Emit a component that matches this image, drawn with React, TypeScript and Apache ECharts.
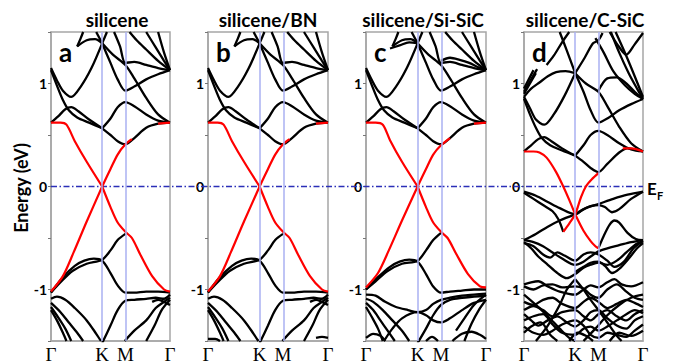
import React, { useEffect, useRef } from 'react';
import * as echarts from 'echarts';

type Pt = [number, number];

const kTicks = [0, 0.43, 0.625, 1];
const kLabels = ['Γ', 'K', 'M', 'Γ'];
const panelTitles = ['silicene', 'silicene/BN', 'silicene/Si-SiC', 'silicene/C-SiC'];
const panelLetters = ['a', 'b', 'c', 'd'];
const energyTicks = [-1, 0, 1];

// ---------- panel a / b (pristine-like) ----------
const upperA: Pt[][] = [
  [[0, 1.15], [0.05, 1.03], [0.1, 0.93], [0.17, 0.87], [0.25, 0.97], [0.34, 1.15], [0.43, 1.39]],
  [[0.43, 1.39], [0.5, 1.2], [0.56, 1.04], [0.625, 0.93], [0.7, 0.97], [0.8, 1.04], [0.9, 1.09], [1, 1.13]],
  [[0.43, 1.39], [0.52, 1.28], [0.625, 1.18], [0.7, 1.05], [0.8, 0.86], [0.9, 0.7], [1, 0.62]],
  [[0, 1.13], [0.05, 0.98], [0.1, 0.84], [0.15, 0.74], [0.22, 0.67], [0.32, 0.62], [0.43, 0.565]],
  [[0, 0.62], [0.06, 0.68], [0.12, 0.75], [0.17, 0.77], [0.23, 0.73], [0.32, 0.65], [0.43, 0.565]],
  [[0.43, 0.565], [0.5, 0.66], [0.56, 0.77], [0.625, 0.82], [0.7, 0.78], [0.8, 0.7], [0.9, 0.64], [1, 0.62]],
  [[0.43, 0.565], [0.5, 0.5], [0.56, 0.44], [0.625, 0.41], [0.7, 0.47], [0.8, 0.57], [0.9, 0.61], [1, 0.62]],
  [[0.66, 1.5], [0.72, 1.42], [0.8, 1.33], [0.9, 1.22], [1, 1.13]],
  [[0.8, 1.5], [0.88, 1.35], [0.95, 1.22], [1, 1.13]],
  [[0.9, 1.5], [0.95, 1.3], [1, 1.13]],
  [[0.53, 1.5], [0.58, 1.36], [0.625, 1.2], [0.7, 1.21], [0.8, 1.18], [0.9, 1.15], [1, 1.13]],
  [[0.22, 1.36], [0.3, 1.42], [0.37, 1.43], [0.43, 1.39]],
  [[0.22, 1.36], [0.25, 1.44], [0.27, 1.5]],
  [[0.43, 1.39], [0.47, 1.5]],
  [[0.38, 1.5], [0.43, 1.39]],
];

const lowerA: Pt[][] = [
  [[0, -1.03], [0.08, -0.93], [0.18, -0.82], [0.3, -0.75], [0.43, -0.71], [0.5, -0.62], [0.56, -0.52], [0.625, -0.46]],
  [[0, -1.03], [0.1, -0.88], [0.2, -0.77], [0.28, -0.72], [0.36, -0.7], [0.43, -0.72], [0.5, -0.84], [0.56, -0.96], [0.625, -1.03], [0.7, -1.03], [0.8, -1.02], [0.9, -1.02], [1, -1.03]],
  [[0.43, -1.52], [0.5, -1.35], [0.56, -1.2], [0.625, -1.11], [0.7, -1.1], [0.8, -1.09], [0.88, -1.08], [0.95, -1.09], [1, -1.05]],
  [[0, -1.09], [0.05, -1.07], [0.12, -1.1], [0.2, -1.18], [0.3, -1.3], [0.38, -1.43], [0.42, -1.5]],
  [[0, -1.13], [0.08, -1.22], [0.15, -1.32], [0.22, -1.42], [0.27, -1.5]],
  [[0, -1.17], [0.06, -1.27], [0.12, -1.38], [0.17, -1.5]],
  [[0, -1.2], [0.05, -1.3], [0.1, -1.42], [0.13, -1.5]],
  [[0.62, -1.5], [0.7, -1.4], [0.8, -1.3], [0.88, -1.18], [0.95, -1.12], [1, -1.08]],
  [[0.8, -1.5], [0.87, -1.35], [0.93, -1.2], [1, -1.1]],
  [[0.85, -1.12], [0.9, -1.1], [0.95, -1.12], [1, -1.15]],
];

const lowerBExtra: Pt[][] = [
  [[0, -1.48], [0.06, -1.48], [0.1, -1.5]],
  [[0.9, -1.47], [0.95, -1.46], [1, -1.47]],
];

const redA: Pt[][] = [
  [[0, 0.62], [0.08, 0.62], [0.13, 0.6], [0.2, 0.44], [0.3, 0.24], [0.43, 0]],
  [[0.43, 0], [0.5, 0.17], [0.56, 0.31], [0.625, 0.41], [0.68, 0.46]],
  [[0, -1.02], [0.1, -0.87], [0.19, -0.64], [0.3, -0.34], [0.43, 0]],
  [[0.43, 0], [0.5, -0.2], [0.56, -0.35], [0.625, -0.44], [0.68, -0.5], [0.75, -0.66], [0.85, -0.87], [0.95, -1.0], [1, -1.02]],
  [[0.9, 0.61], [1, 0.62]],
];

// ---------- panel c (Si-SiC) ----------
const upperCExtra: Pt[][] = [
  [[0.2, 1.34], [0.28, 1.37], [0.36, 1.4], [0.43, 1.39]],
  [[0.625, 1.22], [0.7, 1.25], [0.78, 1.23], [0.86, 1.2], [0.93, 1.16], [1, 1.13]],
];

const lowerC: Pt[][] = [
  [[0, -1.0], [0.08, -0.92], [0.18, -0.82], [0.3, -0.75], [0.43, -0.72], [0.5, -0.62], [0.56, -0.52], [0.625, -0.45]],
  [[0, -1.0], [0.1, -0.88], [0.2, -0.78], [0.28, -0.73], [0.36, -0.71], [0.43, -0.73], [0.5, -0.85], [0.56, -0.97], [0.625, -1.03], [0.7, -1.02], [0.8, -1.01], [0.9, -1.0], [1, -1.0]],
  [[0, -1.05], [0.08, -1.06], [0.16, -1.12], [0.25, -1.17], [0.35, -1.2], [0.43, -1.22], [0.5, -1.2], [0.56, -1.14], [0.625, -1.1], [0.7, -1.08], [0.8, -1.06], [0.9, -1.05], [1, -1.04]],
  [[0.15, -1.5], [0.22, -1.38], [0.3, -1.28], [0.43, -1.22], [0.5, -1.25], [0.56, -1.3], [0.625, -1.32], [0.7, -1.28], [0.8, -1.2], [0.9, -1.13], [1, -1.1]],
  [[0.43, -1.52], [0.5, -1.38], [0.56, -1.25], [0.625, -1.15], [0.7, -1.1], [0.8, -1.08], [0.9, -1.07], [1, -1.06]],
  [[0, -1.09], [0.06, -1.12], [0.14, -1.2], [0.22, -1.3], [0.3, -1.4], [0.36, -1.5]],
  [[0, -1.13], [0.06, -1.2], [0.12, -1.3], [0.18, -1.4], [0.24, -1.5]],
  [[0, -1.17], [0.05, -1.27], [0.1, -1.38], [0.14, -1.5]],
  [[0, -1.47], [0.06, -1.43], [0.12, -1.45], [0.16, -1.5]],
  [[0.72, -1.5], [0.8, -1.43], [0.88, -1.41], [0.95, -1.44], [1, -1.48]],
  [[0.75, -1.4], [0.82, -1.28], [0.9, -1.15], [1, -1.05]],
  [[0.82, -1.5], [0.88, -1.33], [0.94, -1.2], [1, -1.1]],
  [[0.5, -1.5], [0.55, -1.46], [0.6, -1.5]],
];

const redC: Pt[][] = [
  [[0, 0.62], [0.08, 0.62], [0.14, 0.6], [0.2, 0.45], [0.3, 0.24], [0.43, 0]],
  [[0.43, 0], [0.5, 0.17], [0.56, 0.31], [0.625, 0.4], [0.7, 0.47]],
  [[0, -0.98], [0.1, -0.84], [0.19, -0.62], [0.3, -0.33], [0.43, 0]],
  [[0.43, 0], [0.5, -0.2], [0.56, -0.35], [0.625, -0.44], [0.68, -0.5], [0.75, -0.65], [0.85, -0.85], [0.95, -0.97], [1, -0.98]],
  [[0.9, 0.61], [1, 0.62]],
];

// ---------- panel d (C-SiC) ----------
const upperD: Pt[][] = [
  [[0, 0.87], [0.05, 0.76], [0.1, 0.65], [0.17, 0.6], [0.25, 0.7], [0.34, 0.88], [0.43, 1.1]],
  [[0, 0.87], [0.06, 0.95], [0.13, 1.01], [0.2, 1.07], [0.27, 1.11], [0.35, 1.12], [0.43, 1.1]],
  [[0, 0.85], [0.05, 0.7], [0.1, 0.57], [0.15, 0.47], [0.22, 0.4], [0.32, 0.35], [0.43, 0.3]],
  [[0, 0.34], [0.06, 0.4], [0.12, 0.46], [0.17, 0.48], [0.23, 0.44], [0.32, 0.37], [0.43, 0.3]],
  [[0.43, 0.3], [0.5, 0.4], [0.56, 0.5], [0.625, 0.54], [0.7, 0.5], [0.8, 0.42], [0.9, 0.36], [1, 0.34]],
  [[0.43, 0.3], [0.5, 0.24], [0.56, 0.18], [0.625, 0.14], [0.7, 0.22], [0.8, 0.33], [0.87, 0.37], [1, 0.34]],
  [[0.43, 1.1], [0.5, 0.92], [0.56, 0.74], [0.625, 0.62], [0.7, 0.66], [0.8, 0.74], [0.9, 0.8], [1, 0.85]],
  [[0.43, 1.1], [0.52, 1.0], [0.625, 0.92], [0.7, 0.78], [0.8, 0.58], [0.9, 0.42], [1, 0.34]],
  [[0.625, 0.93], [0.7, 1.05], [0.78, 1.06], [0.86, 1.0], [0.93, 0.92], [1, 0.85]],
  [[0.43, 1.1], [0.51, 1.25], [0.58, 1.39], [0.625, 1.42], [0.66, 1.49]],
  [[0.6, 1.44], [0.67, 1.3], [0.75, 1.12], [0.85, 0.98], [0.93, 0.9], [1, 0.85]],
  [[0.19, 1.18], [0.25, 1.27], [0.32, 1.4], [0.38, 1.5]],
  [[0.3, 1.5], [0.36, 1.32], [0.43, 1.1]],
  [[0, 0.9], [0.05, 1.0], [0.1, 1.1]],
  [[0, 0.92], [0.06, 1.04], [0.11, 1.14]],
  [[0, 0.95], [0.04, 1.04], [0.08, 1.13]],
  [[0.72, 1.5], [0.79, 1.37], [0.86, 1.28], [0.93, 1.38], [1, 1.49]],
  [[0.73, 1.5], [0.8, 1.3], [0.88, 1.1], [0.95, 0.95], [1, 0.85]],
  [[0.77, 1.5], [0.84, 1.32], [0.92, 1.1], [1, 0.87]],
];

const lowerD: Pt[][] = [
  [[0, -0.05], [0.1, -0.09], [0.2, -0.15], [0.3, -0.21], [0.43, -0.27], [0.5, -0.22], [0.56, -0.19], [0.625, -0.18], [0.68, -0.2], [0.74, -0.25], [0.8, -0.22], [0.9, -0.12], [1, -0.05]],
  [[0.43, -0.27], [0.52, -0.21], [0.625, -0.17], [0.75, -0.12], [0.87, -0.08], [1, -0.05]],
  [[0, -0.06], [0.08, -0.12], [0.16, -0.18], [0.24, -0.24], [0.29, -0.32], [0.33, -0.44]],
  [[0, -0.52], [0.1, -0.46], [0.2, -0.39], [0.3, -0.33], [0.43, -0.27]],
  [[0.625, -0.6], [0.67, -0.48], [0.72, -0.37], [0.76, -0.33], [0.8, -0.35], [0.87, -0.45], [0.94, -0.51], [1, -0.52]],
  [[0, -0.52], [0.08, -0.54], [0.16, -0.58], [0.24, -0.64], [0.32, -0.7], [0.43, -0.76], [0.5, -0.73], [0.56, -0.68], [0.625, -0.63], [0.7, -0.6], [0.8, -0.57], [0.9, -0.54], [1, -0.52]],
  [[0, -0.54], [0.06, -0.6], [0.12, -0.68], [0.2, -0.76], [0.28, -0.84], [0.36, -0.89], [0.43, -0.85], [0.5, -0.79], [0.56, -0.76], [0.625, -0.74], [0.7, -0.76], [0.78, -0.72], [0.86, -0.64], [0.94, -0.56], [1, -0.53]],
  [[0, -0.55], [0.08, -0.58], [0.16, -0.66], [0.22, -0.69], [0.28, -0.64], [0.34, -0.67], [0.43, -0.72], [0.5, -0.66], [0.56, -0.64], [0.625, -0.66], [0.7, -0.72], [0.76, -0.78], [0.84, -0.73], [0.92, -0.6], [1, -0.53]],
  [[0.43, -0.83], [0.5, -0.78], [0.56, -0.74], [0.625, -0.73], [0.68, -0.77], [0.74, -0.84], [0.8, -0.8], [0.88, -0.7], [0.95, -0.6], [1, -0.55]],
  [[0, -0.95], [0.06, -0.93], [0.12, -0.92], [0.2, -0.97], [0.3, -1.02], [0.43, -1.05], [0.5, -1.0], [0.56, -0.96], [0.625, -0.98], [0.7, -0.93], [0.76, -0.9], [0.82, -0.95], [0.9, -0.97], [1, -0.93]],
  [[0, -0.97], [0.08, -1.0], [0.16, -0.96], [0.24, -0.95], [0.32, -0.98], [0.43, -0.97], [0.5, -0.99], [0.56, -1.05], [0.625, -1.08], [0.7, -1.0], [0.78, -0.95], [0.86, -1.02], [0.93, -1.08], [1, -1.1]],
  [[0, -1.12], [0.08, -1.15], [0.16, -1.1], [0.24, -1.08], [0.32, -1.14], [0.43, -1.18], [0.5, -1.12], [0.56, -1.08], [0.625, -1.12], [0.7, -1.18], [0.78, -1.14], [0.86, -1.1], [0.93, -1.13], [1, -1.17]],
  [[0, -1.2], [0.08, -1.16], [0.16, -1.2], [0.24, -1.26], [0.32, -1.22], [0.43, -1.2], [0.5, -1.26], [0.56, -1.3], [0.625, -1.24], [0.7, -1.2], [0.78, -1.26], [0.86, -1.3], [0.93, -1.24], [1, -1.2]],
  [[0, -1.24], [0.06, -1.3], [0.12, -1.35], [0.2, -1.3], [0.28, -1.26], [0.36, -1.32], [0.43, -1.36], [0.5, -1.3], [0.56, -1.22], [0.625, -1.2], [0.7, -1.28], [0.78, -1.35], [0.86, -1.38], [0.93, -1.3], [1, -1.26]],
  [[0, -1.3], [0.08, -1.26], [0.16, -1.24], [0.24, -1.34], [0.32, -1.42], [0.43, -1.44], [0.5, -1.38], [0.56, -1.36], [0.625, -1.4], [0.7, -1.36], [0.78, -1.3], [0.86, -1.24], [0.93, -1.2], [1, -1.23]],
  [[0, -1.36], [0.08, -1.42], [0.16, -1.44], [0.24, -1.4], [0.32, -1.34], [0.43, -1.3], [0.5, -1.35], [0.56, -1.44], [0.625, -1.47], [0.7, -1.42], [0.78, -1.44], [0.86, -1.46], [0.93, -1.4], [1, -1.34]],
  [[0, -1.42], [0.06, -1.36], [0.14, -1.32], [0.22, -1.44], [0.28, -1.5]],
  [[0.38, -1.5], [0.45, -1.42], [0.52, -1.45], [0.58, -1.5]],
  [[0.72, -1.5], [0.8, -1.42], [0.9, -1.45], [1, -1.4]],
  [[0, -1.05], [0.1, -1.15], [0.2, -1.26], [0.3, -1.38], [0.38, -1.47], [0.43, -1.5]],
  [[0.5, -1.5], [0.6, -1.38], [0.7, -1.25], [0.8, -1.15], [0.9, -1.08], [1, -1.05]],
  [[0.43, -0.9], [0.5, -1.0], [0.56, -1.1], [0.625, -1.2], [0.7, -1.32], [0.78, -1.45], [0.82, -1.5]],
  [[0.1, -1.5], [0.2, -1.35], [0.3, -1.15], [0.36, -1.0], [0.43, -0.9]],
];

const redD: Pt[][] = [
  [[0, 0.34], [0.08, 0.34], [0.13, 0.33], [0.19, 0.28], [0.27, 0.14], [0.33, 0], [0.38, -0.13], [0.43, -0.27]],
  [[0.43, -0.27], [0.5, -0.43], [0.56, -0.53], [0.6, -0.58], [0.625, -0.6]],
  [[0.33, -0.44], [0.38, -0.36], [0.43, -0.27], [0.48, -0.1], [0.52, 0], [0.57, 0.07], [0.625, 0.13]],
  [[0.83, 0.37], [0.9, 0.37], [1, 0.34]],
];

const panelBlack: Pt[][][] = [
  [...upperA, ...lowerA],
  [...upperA, ...lowerA, ...lowerBExtra],
  [...upperA, ...upperCExtra, ...lowerC],
  [...upperD, ...lowerD],
];
const panelRed: Pt[][][] = [redA, redA, redC, redD];

// layout (pixels)
const grids = [
  { left: 51, top: 32, width: 119, height: 313 },
  { left: 208, top: 32, width: 120, height: 313 },
  { left: 366, top: 32, width: 120, height: 313 },
  { left: 524, top: 32, width: 119, height: 313 },
];
const titleX = [117, 268, 423, 585];

const GRAY = '#a6a6a6';
const BLUE_V = '#aab0f2';
const TXT = 'Lato, "Open Sans", sans-serif';

export default function App() {
  const ref = useRef<HTMLDivElement>(null);
  useEffect(() => {
    if (!ref.current) return;
    const chart = echarts.init(ref.current, undefined, { renderer: 'svg' });
    const series: any[] = [];
    grids.forEach((_, i) => {
      series.push({
        type: 'line',
        xAxisIndex: i,
        yAxisIndex: i,
        data: [],
        z: 1,
        silent: true,
        markLine: {
          silent: true,
          symbol: ['none', 'none'],
          label: { show: false },
          animation: false,
          data: [
            { xAxis: kTicks[1], lineStyle: { color: BLUE_V, width: 1.5, type: 'solid' } },
            { xAxis: kTicks[2], lineStyle: { color: BLUE_V, width: 1.5, type: 'solid' } },
          ],
        },
      });
      panelBlack[i].forEach((band) => {
        series.push({
          type: 'line',
          xAxisIndex: i,
          yAxisIndex: i,
          data: band,
          showSymbol: false,
          smooth: 0.3,
          silent: true,
          z: 2,
          lineStyle: { color: '#000', width: 2.3 },
        });
      });
      panelRed[i].forEach((band) => {
        series.push({
          type: 'line',
          xAxisIndex: i,
          yAxisIndex: i,
          data: band,
          showSymbol: false,
          smooth: 0.3,
          silent: true,
          z: 3,
          lineStyle: { color: '#ff0000', width: 2.2 },
        });
      });
    });

    chart.setOption({
      animation: false,
      grid: grids.map((g) => ({ ...g, show: true, borderColor: GRAY, borderWidth: 1.5, backgroundColor: 'transparent' })),
      xAxis: grids.map((_, i) => ({
        type: 'value',
        gridIndex: i,
        min: 0,
        max: 1,
        axisLine: { show: true, onZero: false, lineStyle: { color: GRAY, width: 1.5 } },
        axisTick: { show: false },
        splitLine: { show: false },
        axisLabel: {
          customValues: kTicks,
          formatter: (v: number) => {
            let best = 0;
            kTicks.forEach((t, j) => {
              if (Math.abs(t - v) < Math.abs(kTicks[best] - v)) best = j;
            });
            return kLabels[best];
          },
          color: '#000',
          fontFamily: '"Liberation Serif", "DejaVu Serif", serif',
          fontSize: 19,
          margin: 4,
          hideOverlap: false,
        },
      })),
      yAxis: grids.map((_, i) => ({
        type: 'value',
        gridIndex: i,
        min: -1.5,
        max: 1.5,
        interval: 0.5,
        axisLine: { show: true, onZero: false, lineStyle: { color: GRAY, width: 1.5 } },
        axisTick: { show: true, length: 3, lineStyle: { color: '#777' } },
        splitLine: { show: false },
        axisLabel: {
          formatter: (v: number) => (energyTicks.some((t) => Math.abs(t - v) < 1e-6) ? String(Math.round(v)) : ''),
          color: '#000',
          fontFamily: TXT,
          fontWeight: 'bold',
          fontSize: 14,
          margin: 4,
        },
      })),
      series,
    });

    const y0 = chart.convertToPixel({ yAxisIndex: 0 }, 0) as number;
    const xs = chart.convertToPixel({ xAxisIndex: 0 }, 0) as number;
    const xe = chart.convertToPixel({ xAxisIndex: 3 }, 1) as number;

    const graphic: any[] = [
      {
        type: 'line',
        silent: true,
        z: 1,
        shape: { x1: xs, y1: y0, x2: xe, y2: y0 },
        style: { stroke: '#2b2fb8', lineWidth: 1.3, lineDash: [6, 2.5, 1.5, 2.5] },
      },
      {
        type: 'text',
        x: xe + 4,
        y: y0 + 2,
        style: { text: 'E', font: `bold 17px ${TXT}`, fill: '#000', textAlign: 'left', textVerticalAlign: 'middle' },
      },
      {
        type: 'text',
        x: xe + 14,
        y: y0 + 9,
        style: { text: 'F', font: `bold 11px ${TXT}`, fill: '#000', textAlign: 'left', textVerticalAlign: 'middle' },
      },
      {
        type: 'text',
        x: 21,
        y: 188,
        rotation: Math.PI / 2,
        style: { text: 'Energy (eV)', font: `bold 18px ${TXT}`, fill: '#000', textAlign: 'center', textVerticalAlign: 'middle' },
      },
    ];
    grids.forEach((g, i) => {
      graphic.push({
        type: 'text',
        x: titleX[i],
        y: 19,
        style: { text: panelTitles[i], font: `bold 19px ${TXT}`, fill: '#000', textAlign: 'center', textVerticalAlign: 'middle' },
      });
      graphic.push({
        type: 'text',
        x: g.left + 8,
        y: 52,
        z: 10,
        style: { text: panelLetters[i], font: `bold 26px ${TXT}`, fill: '#000', textAlign: 'left', textVerticalAlign: 'middle' },
      });
    });
    chart.setOption({ graphic });

    return () => chart.dispose();
  }, []);
  return <div ref={ref} style={{ position: 'fixed', left: 0, top: 0, width: 676, height: 364, background: '#fff' }} />;
}
